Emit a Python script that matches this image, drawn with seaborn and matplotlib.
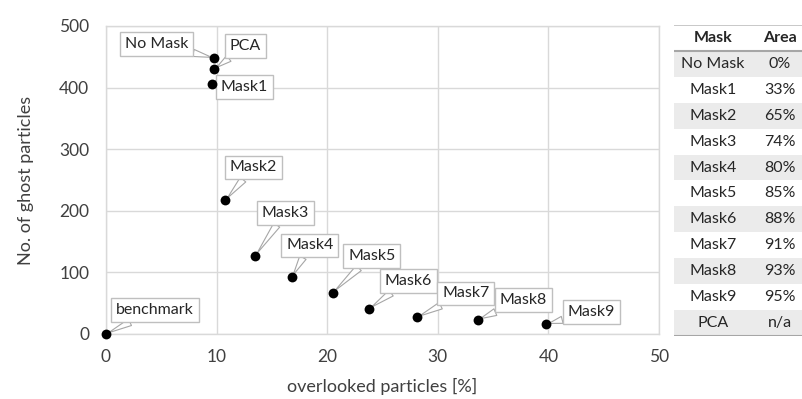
import matplotlib
matplotlib.use("Agg")
import matplotlib.pyplot as plt
import seaborn as sns
import pandas as pd

# ---- data ----
labels = ["benchmark", "No Mask", "PCA", "Mask1", "Mask2", "Mask3", "Mask4",
          "Mask5", "Mask6", "Mask7", "Mask8", "Mask9"]
overlooked = [0.0, 9.8, 9.8, 9.6, 10.8, 13.5, 16.8, 20.5, 23.8, 28.1, 33.6, 39.8]
ghost = [0, 448, 430, 406, 217, 127, 92, 67, 41, 27, 23, 16]

table_masks = ["No Mask", "Mask1", "Mask2", "Mask3", "Mask4", "Mask5",
               "Mask6", "Mask7", "Mask8", "Mask9", "PCA"]
table_areas = ["0%", "33%", "65%", "74%", "80%", "85%", "88%", "91%", "93%", "95%", "n/a"]

x_ticks = [0, 10, 20, 30, 40, 50]
y_ticks = [0, 100, 200, 300, 400, 500]

# label offsets in pixels (style only)
offsets = {
    "benchmark": (49, 24), "No Mask": (-58, 14), "PCA": (31, 23), "Mask1": (32, -3),
    "Mask2": (28, 33), "Mask3": (30, 43), "Mask4": (18, 32), "Mask5": (39, 37),
    "Mask6": (39, 28), "Mask7": (49, 24), "Mask8": (46, 20), "Mask9": (45, 12),
}

df = pd.DataFrame({"label": labels, "x": overlooked, "y": ghost})

sns.set_theme(style="whitegrid")
plt.rcParams["font.family"] = ["Lato", "DejaVu Sans"]

W, H = 803, 399
fig = plt.figure(figsize=(W / 100, H / 100), dpi=100)
ax = fig.add_axes([106 / W, 1 - 334 / H, (659 - 106) / W, (334 - 26) / H])

sns.scatterplot(data=df, x="x", y="y", ax=ax, color="black", s=50,
                edgecolor="black", linewidth=0, zorder=5, clip_on=False)

ax.set_xlim(0, 50)
ax.set_ylim(0, 500)
ax.set_xticks(x_ticks)
ax.set_yticks(y_ticks)
ax.tick_params(axis="x", labelsize=12.5, colors="#404040", length=0, pad=11)
ax.tick_params(axis="y", labelsize=12.5, colors="#404040", length=0, pad=12)
ax.grid(True, color="#d9d9d9", linewidth=1)
for s in ax.spines.values():
    s.set_color("#d9d9d9")
    s.set_linewidth(1)
ax.set_xlabel("overlooked particles [%]", fontsize=13, color="#404040", labelpad=9)
ax.set_ylabel("No. of ghost particles", fontsize=13, color="#404040", labelpad=18)

for lab, xv, yv in zip(labels, overlooked, ghost):
    dx, dy = offsets[lab]
    ax.annotate(lab, xy=(xv, yv), xytext=(dx, dy), textcoords="offset pixels",
                ha="center", va="center", fontsize=11.5, color="#262626",
                bbox=dict(boxstyle="square,pad=0.3", fc="white", ec="#bfbfbf", lw=1),
                arrowprops=dict(arrowstyle="wedge,tail_width=0.45,shrink_factor=0.5",
                                fc="white", ec="#a6a6a6", lw=0.8, shrinkA=0, shrinkB=2),
                zorder=4, annotation_clip=False)

# ---- table ----
tx0, tx1 = 674, 803
ty0, ty1 = 25, 336
tax = fig.add_axes([tx0 / W, 1 - ty1 / H, (tx1 - tx0) / W, (ty1 - ty0) / H])
tax.set_xlim(0, 1)
nrows = len(table_masks) + 1
tax.set_ylim(nrows, 0)
tax.axis("off")
for i, (m, a) in enumerate(zip(table_masks, table_areas)):
    r = i + 1
    if i % 2 == 0:
        tax.axhspan(r, r + 1, color="#ebebeb", lw=0)
    tax.text(0.30, r + 0.5, m, ha="center", va="center", fontsize=11.5, color="#262626")
    tax.text(0.82, r + 0.5, a, ha="center", va="center", fontsize=11.5, color="#262626")
tax.text(0.30, 0.5, "Mask", ha="center", va="center", fontsize=11.5, fontweight="bold", color="#262626")
tax.text(0.82, 0.5, "Area", ha="center", va="center", fontsize=11.5, fontweight="bold", color="#262626")
tax.axhline(0, color="#bfbfbf", lw=1.2)
tax.axhline(1, color="#a6a6a6", lw=1.5)
tax.axhline(nrows, color="#a6a6a6", lw=1.5)

fig.savefig("out.png", dpi=100)
